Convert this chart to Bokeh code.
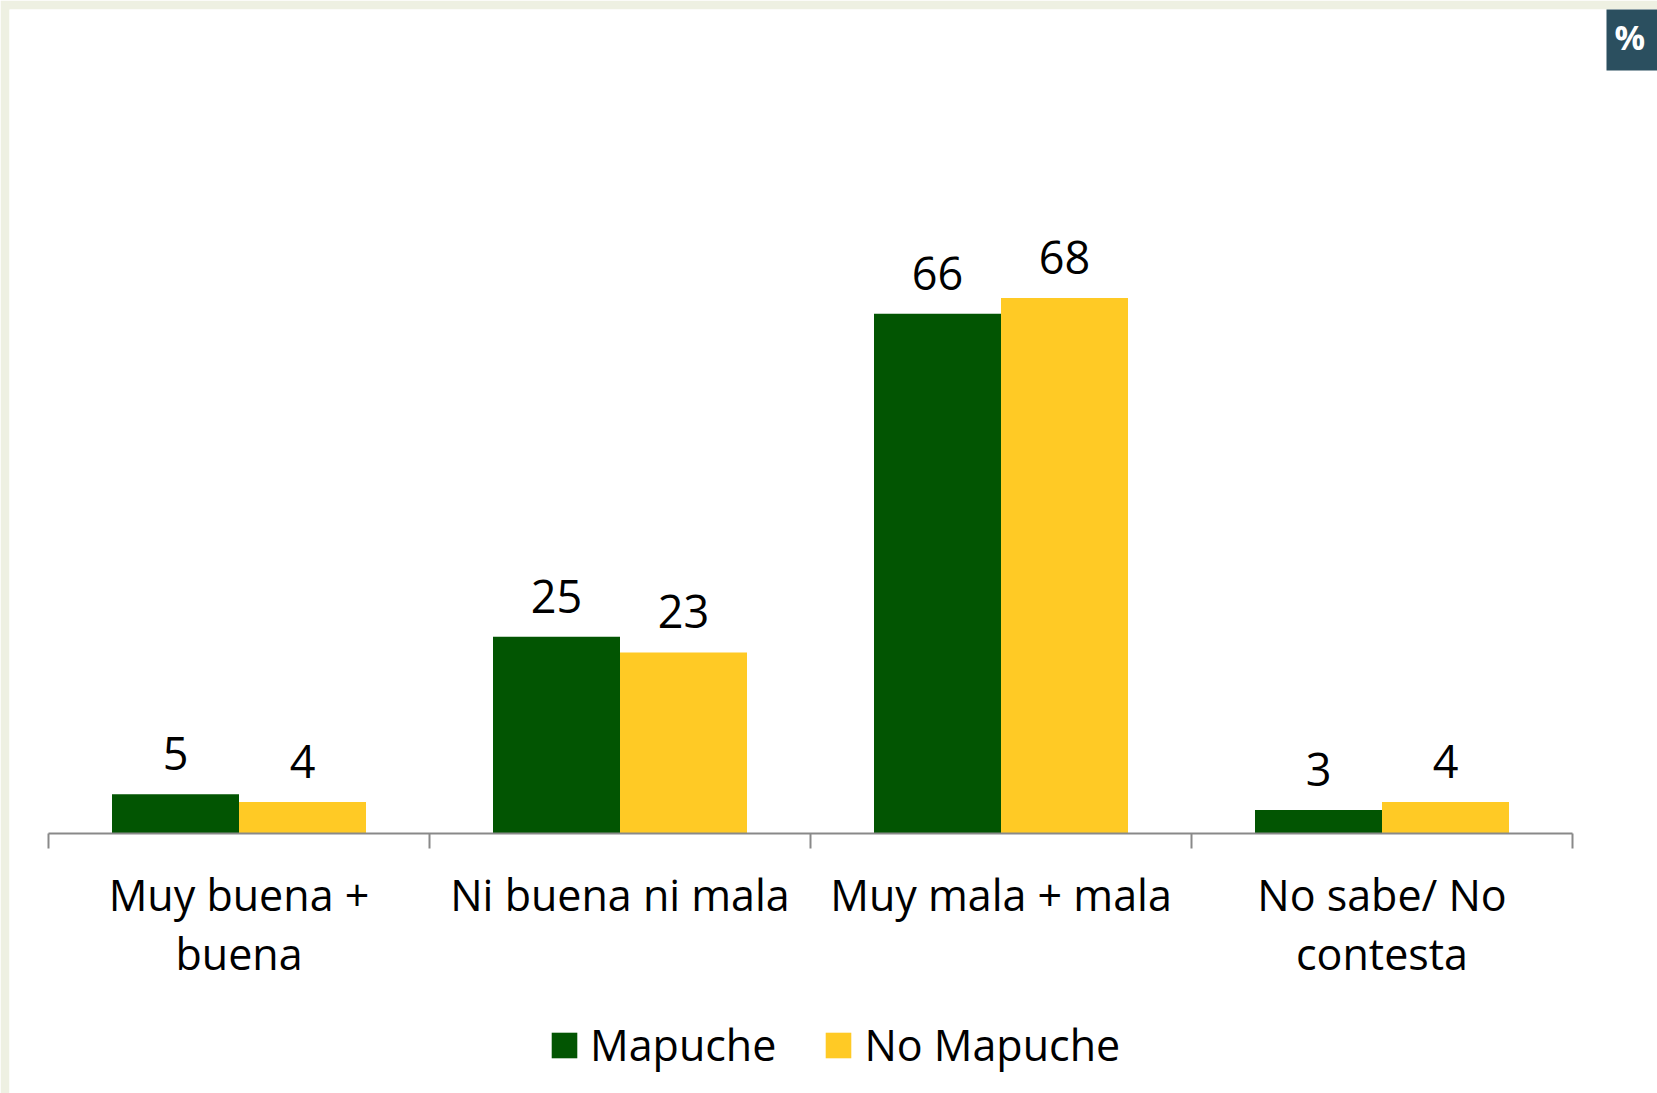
from bokeh.plotting import figure
from bokeh.models import (ColumnDataSource, Range1d, FixedTicker, LabelSet, Label,
                          Legend, LegendItem)
from bokeh.transform import dodge
from bokeh.core.properties import value
from bokeh.embed import file_html
from bokeh.resources import INLINE

categories = ["Muy buena +\nbuena", "Ni buena ni mala", "Muy mala + mala", "No sabe/ No\ncontesta"]
mapuche = [5, 25, 66, 3]
no_mapuche = [4, 23, 68, 4]
series_names = ["Mapuche", "No Mapuche"]

GREEN = "#025502"
YELLOW = "#FFCA25"
AXIS = "#898989"
FONT = "Open Sans"

# layout constants (pixels)
W, H = 1657, 1093
BAND = 9            # textured band at top/left
X0, CAT_W = 48, 381  # axis start and category width
Y0, PX_PER = 833, 7.875  # axis line y and pixels per unit

xs = [i + 0.5 for i in range(len(categories))]
src = ColumnDataSource(dict(
    x=xs, cat=categories, m=mapuche, n=no_mapuche,
    ml=[str(v) for v in mapuche], nl=[str(v) for v in no_mapuche],
))

x_range = Range1d((BAND - X0) / CAT_W, (W - X0) / CAT_W)
y_range = Range1d(-(H - Y0) / PX_PER, (Y0 - BAND) / PX_PER)

p = figure(width=W, height=H, output_backend="svg", toolbar_location=None,
           x_range=x_range, y_range=y_range,
           min_border_left=BAND, min_border_right=0, min_border_top=BAND,
           min_border_bottom=0, background_fill_color="white",
           border_fill_color="#EEF0E2", outline_line_color=None)

r1 = p.vbar(x=dodge("x", -1/6, range=p.x_range), top="m", width=1/3, source=src,
            fill_color=GREEN, line_color=None)
r2 = p.vbar(x=dodge("x", 1/6, range=p.x_range), top="n", width=1/3, source=src,
            fill_color=YELLOW, line_color=None)

for col, lab, off in (("m", "ml", -1/6), ("n", "nl", 1/6)):
    ls = LabelSet(x=dodge("x", off, range=p.x_range), y=col, text=lab, source=src,
                  y_offset=24, text_align="center", text_baseline="alphabetic",
                  text_font=value(FONT), text_font_size=value("45px"),
                  text_color="black")
    p.add_layout(ls)

p.grid.visible = False
p.yaxis.visible = False

ax = p.xaxis[0]
ax.fixed_location = 0
ax.bounds = (0, len(categories))
ax.ticker = FixedTicker(ticks=xs, minor_ticks=list(range(len(categories) + 1)))
ax.major_label_overrides = {x: c for x, c in zip(xs, categories)}
ax.major_tick_out = 0
ax.major_tick_in = 0
ax.minor_tick_out = 15
ax.minor_tick_in = 0
ax.minor_tick_line_color = AXIS
ax.minor_tick_line_width = 2
ax.axis_line_color = AXIS
ax.axis_line_width = 2
ax.major_label_standoff = 16
ax.major_label_text_font = FONT
ax.major_label_text_font_size = "43px"
ax.major_label_text_color = "black"
ax.major_label_text_line_height = 1.0

legend = Legend(items=[LegendItem(label=series_names[0], renderers=[r1]),
                       LegendItem(label=series_names[1], renderers=[r2])],
                orientation="horizontal", location=(539, 19),
                glyph_width=32, glyph_height=32, label_standoff=10, spacing=46,
                padding=0, margin=0, border_line_color=None,
                background_fill_alpha=0, label_text_font=FONT,
                label_text_font_size="43px", label_text_color="black")
p.add_layout(legend, "center")

pct = Label(x=1606 - BAND, y=H - 8, x_units="screen", y_units="screen", text="%",
            text_color="white", text_font=FONT, text_font_style="bold",
            text_font_size="34px", background_fill_color="#2B4F5F",
            padding=(8, 12, 5, 11), text_align="left", text_baseline="top")
p.add_layout(pct)

open("out.html", "w").write(file_html(p, INLINE))
